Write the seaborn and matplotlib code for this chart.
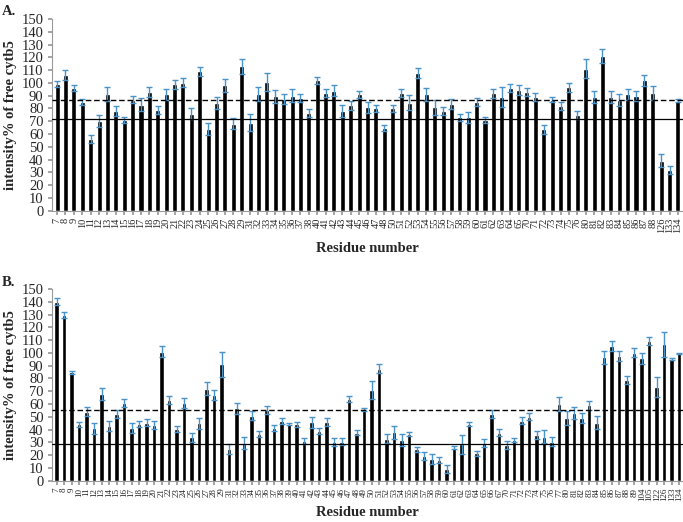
import numpy as np
import pandas as pd
import seaborn as sns
import matplotlib.pyplot as plt

# panel A data
res_a = list(range(7, 30)) + [31, 32, 33, 34, 35, 36, 37, 38] + list(range(40, 49)) \
    + list(range(50, 60)) + list(range(60, 66)) + list(range(70, 77)) + list(range(80, 89)) \
    + [126, 133, 134]
val_a = [99, 106, 96, 85, 56, 70, 91, 78, 71, 87,
         83, 93, 79, 91, 99, 100, 76, 109, 64, 84,
         98, 68, 113, 69, 91, 101, 89.5, 87.4, 90, 88,
         76.7, 102, 92, 94, 78, 82.4, 91, 81, 80, 65,
         80, 92, 84.5, 108, 91, 81, 78, 83.5, 73, 73,
         85, 71, 92, 89, 96, 94.5, 93, 89, 63.7, 87,
         81.7, 96.5, 75, 111, 89, 121, 89, 86.6, 91, 90,
         102, 92, 39, 32, 86]
err_a = [2.6, 4, 2.3, 2.6, 3.4, 4.7, 5.5, 4, 2, 3,
         5, 4, 3, 4, 3.6, 3.6, 4, 3.4, 4.4, 4.7,
         5.2, 4.4, 6, 6.5, 5.5, 7, 5, 3.6, 5, 3,
         3, 2.6, 3.4, 4, 5, 3.4, 3, 4.4, 3, 2.3,
         3, 3, 6, 4, 5, 6, 3, 3.6, 3, 4,
         3, 2.6, 3.6, 7.5, 3, 4, 3, 3, 3.6, 2,
         3, 3.6, 3, 7.5, 4.7, 5.5, 4.4, 4.7, 4.4, 4,
         4.4, 5.2, 5.2, 3, 1.3]
mean_a, sd_a = 87, 72

# panel B data
res_b = list(range(7, 30)) + list(range(31, 40)) + list(range(40, 50)) + list(range(50, 60)) \
    + list(range(60, 68)) + list(range(70, 78)) + list(range(80, 90)) \
    + [104, 105, 122, 126, 133, 134]
val_b = [140, 129.7, 84.8, 44, 54, 41, 67.8, 43, 52, 61,
         41, 44.3, 45.4, 43.6, 101, 63, 40.4, 61, 34, 45,
         72, 67.3, 91, 25, 56.6, 29.7, 51, 36.5, 55.3, 41.5,
         46.4, 44.3, 44, 30.8, 45.7, 39, 45.7, 30.5, 30.5, 64,
         37.6, 55.6, 71, 87.7, 33, 37.8, 31.6, 36.8, 24.5, 19.3,
         16.7, 16, 8.9, 25.8, 28.4, 44.3, 21.4, 29.7, 52, 37.6,
         27.7, 31.8, 47, 50, 35.5, 34.4, 30.5, 59.7, 49.3, 53.2,
         49.3, 59, 45.4, 96.5, 105.4, 97.6, 78.8, 100.2, 95.7, 109.6,
         73.6, 106.7, 95.2, 99.7]
err_b = [2.6, 2.6, 1, 2, 3.4, 4.4, 5, 4, 3, 3,
         4, 2.6, 2.6, 3.4, 4, 3, 2.3, 4, 3.6, 4.4,
         5, 4, 10, 4, 4.4, 4.7, 3.4, 2.6, 3, 2.3,
         2.3, 1, 2, 2.3, 4.4, 2.3, 3, 3, 2.6, 2.3,
         2, 1, 6.8, 3.6, 3.4, 5, 4.7, 1.5, 2, 3,
         4, 2.3, 3, 1.3, 7.3, 1.3, 2, 3, 3, 2.6,
         3, 1.3, 3, 2.6, 3, 5, 3.4, 5.5, 5.5, 4.7,
         4, 3.4, 5.2, 5, 4.2, 4, 3.4, 3.4, 4.4, 3.1,
         7.8, 9.9, 0.5, 0.5]
mean_b, sd_b = 55.3, 28.7

sns.set_theme(style="white")
plt.rcParams['font.family'] = ['Liberation Serif', 'DejaVu Serif']

fig = plt.figure(figsize=(6.83, 5.22), dpi=100)
ax_a = fig.add_axes([0.076, 0.5964, 0.924, 0.3672])
ax_b = fig.add_axes([0.076, 0.0791, 0.924, 0.3673])


def panel(ax, res, vals, errs, dash_y, solid_y, right, xfont, xlab_y):
    df = pd.DataFrame({"res": [str(r) for r in res], "val": vals})
    sns.barplot(data=df, x="res", y="val", color="black", width=0.6,
                errorbar=None, ax=ax, saturation=1)
    ax.errorbar(np.arange(len(vals)), vals, yerr=errs, fmt="none",
                ecolor="#4a93c9", elinewidth=1, capsize=2.2, capthick=1, zorder=3)
    ax.axhline(dash_y, color="black", lw=1, ls=(0, (4, 2)), zorder=4)
    ax.axhline(solid_y, color="black", lw=0.9, zorder=4)
    ax.set_xlim(-0.62, right)
    ax.set_ylim(0, 150)
    ax.set_yticks(range(0, 151, 10))
    ax.tick_params(axis="y", labelsize=10.5, length=3, color="#999999", pad=3, left=True)
    ax.tick_params(axis="x", labelsize=xfont, rotation=90, length=3,
                   color="#999999", pad=2, bottom=True)
    for s in ["top", "right"]:
        ax.spines[s].set_visible(False)
    for s in ["left", "bottom"]:
        ax.spines[s].set_color("#999999")
        ax.spines[s].set_linewidth(0.8)
    ax.set_ylabel("intensity% of free cytb5", fontsize=10.5, fontweight="bold", labelpad=3)
    ax.set_xlabel("Residue number", fontsize=10.5, fontweight="bold", va="center")
    ax.xaxis.set_label_coords(0.5, xlab_y)


panel(ax_a, res_a, val_a, err_a, mean_a, sd_a, 74.6, 7.5, -0.195)
panel(ax_b, res_b, val_b, err_b, mean_b, sd_b, 83.5, 6.5, -0.168)

fig.text(0.003, 0.99, "A.", fontsize=10.5, fontweight="bold", va="top")
fig.text(0.003, 0.472, "B.", fontsize=10.5, fontweight="bold", va="top")

fig.savefig("out.png", dpi=100)
